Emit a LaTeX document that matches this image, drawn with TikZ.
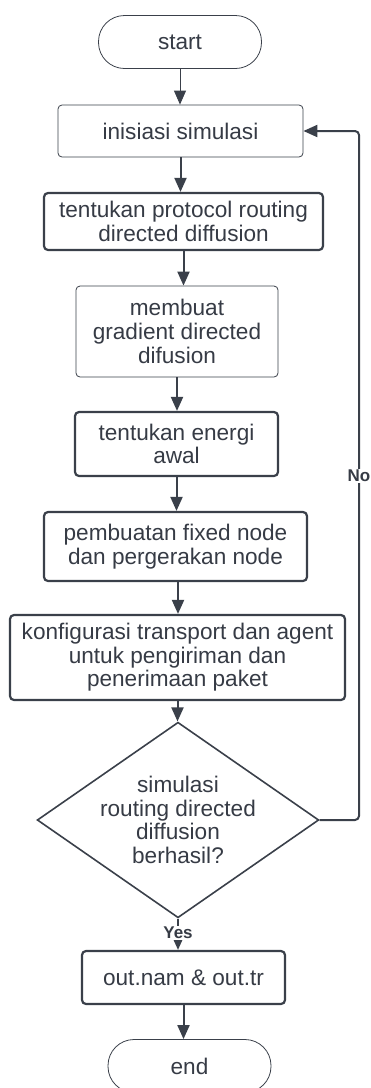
\documentclass[tikz,border=0pt]{standalone}
\usepackage{fontspec}
\setmainfont{Liberation Sans}
\usetikzlibrary{arrows.meta,shapes.geometric}
\definecolor{ln}{HTML}{3A404A}
\definecolor{tx}{HTML}{363B45}
\tikzset{
  base/.style={draw=ln,text=tx,align=center,inner sep=0pt,font=\fontsize{22.6}{23.6}\selectfont},
  thinbox/.style={base,rounded corners=4pt,line width=0.8pt},
  thickbox/.style={base,rounded corners=4pt,line width=2.2pt},
  term/.style={base,rounded corners=26pt,line width=0.8pt,minimum width=163pt,minimum height=53pt},
  decide/.style={base,diamond,line width=1.6pt,minimum width=239pt,minimum height=166pt,shape aspect=1.44},
  arr/.style={draw=ln,line width=2pt,-{Triangle[width=12pt,length=14pt]}},
  arrthin/.style={draw=ln,line width=0.9pt,-{Triangle[width=12pt,length=14pt]}},
  lab/.style={text=tx,fill=white,inner sep=1.5pt,font=\bfseries\fontsize{17}{19}\selectfont}
}
\begin{document}
\begin{tikzpicture}[x=1pt,y=-1pt]
\useasboundingbox (0,0) rectangle (370,1088);
\node[term] (start) at (180,42) {start};
\node[thinbox,minimum width=245pt,minimum height=52pt] (init) at (180.5,131) {inisiasi simulasi};
\node[thickbox,minimum width=279pt,minimum height=57pt] (proto) at (183.5,221.5) {tentukan protocol routing\\directed diffusion};
\node[thinbox,minimum width=202pt,minimum height=91pt] (grad) at (177,331.5) {membuat\\gradient directed\\difusion};
\node[thickbox,minimum width=203pt,minimum height=64pt] (energi) at (176.5,444) {tentukan energi\\awal};
\node[thickbox,minimum width=263pt,minimum height=69pt] (fixed) at (175.5,546.5) {pembuatan fixed node\\dan pergerakan node};
\node[thickbox,minimum width=335pt,minimum height=85pt] (konf) at (177.5,657.5) {konfigurasi transport dan agent\\untuk pengiriman dan\\penerimaan paket};
\node[decide] (dec) at (178,820) {simulasi\\routing directed\\diffusion\\berhasil?};
\node[thickbox,minimum width=203pt,minimum height=53pt] (out) at (183.5,977.5) {out.nam \& out.tr};
\node[term] (end) at (189.5,1066) {end};
\coordinate (c1) at (359,820);
\coordinate (c2) at (359,131);
\draw[arrthin] (start.south) -- (start.south |- init.north);
\draw[arr] (init.south) -- (init.south |- proto.north);
\draw[arr] (proto.south) -- (proto.south |- grad.north);
\draw[arr] (grad.south) -- (grad.south |- energi.north);
\draw[arr] (energi.south) -- (energi.south |- fixed.north);
\draw[arr] ([xshift=2.5pt]fixed.south) -- ([xshift=2.5pt]fixed.south |- konf.north);
\draw[arr] (konf.south) -- (konf.south |- dec.north);
\draw[arr] (dec.south) -- node[lab,pos=0.46] (yes) {Yes} (dec.south |- out.north);
\draw[arr] (out.south) -- (out.south |- end.north);
\draw[arr,rounded corners=4pt] (dec.east) -- (c1) -- (c2) -- (init.east);
\node[lab] (no) at (359,476) {No};
\end{tikzpicture}
\end{document}
